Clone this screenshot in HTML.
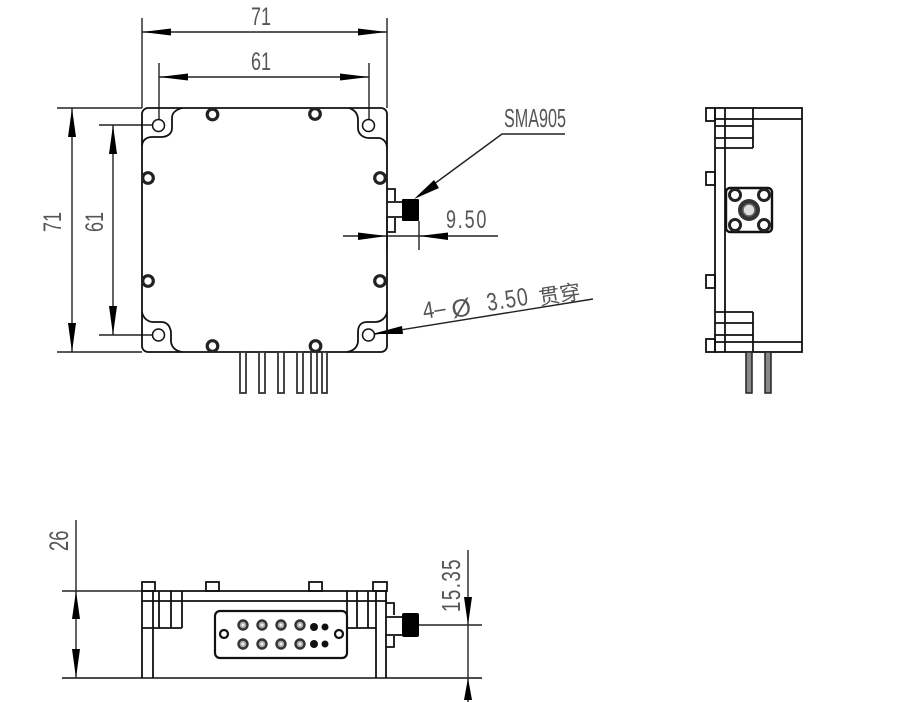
<!DOCTYPE html>
<html><head><meta charset="utf-8"><style>
html,body{margin:0;padding:0;background:#fff;width:909px;height:702px;overflow:hidden}
svg{display:block;filter:blur(.35px)}
text{font-family:"Liberation Sans","Noto Sans CJK SC",sans-serif;fill:#555;font-size:21px}
.o{fill:none;stroke:#111;stroke-width:1.8}
.t{fill:none;stroke:#222;stroke-width:1.4}
.p{fill:none;stroke:#333;stroke-width:1.8}
.h{fill:#fff;stroke:#222;stroke-width:3.2}
.k{fill:#000;stroke:none}
</style></head><body>
<svg width="909" height="702" viewBox="0 0 909 702" xmlns="http://www.w3.org/2000/svg">
<!-- TOP VIEW dims -->
<g class="t">
<path d="M142 18V108M387 18V108M159 63V119M369 63V119M142 32H387M159 77H369"/>
<path d="M57 108H142M57 352H142M99 125H152M99 335H152M72 108V352M113 125V335"/>
<path d="M343 236H498M387 217V250M419 221V250"/>
<path d="M565 134H502L430 187M369 335L593 299"/>
</g>
<g class="k">
<polygon points="142,32 171,28.5 171,35.5"/><polygon points="387,32 358,28.5 358,35.5"/>
<polygon points="159,77 188,73.5 188,80.5"/><polygon points="369,77 340,73.500 340,80.5"/>
<polygon points="72,108 68,137 76,137"/><polygon points="72,352 68,323 76,323"/>
<polygon points="113,125 109,154 117,154"/><polygon points="113,335 109,306 117,306"/>
<polygon points="387,236 358,232.5 358,240"/><polygon points="419,236 448,232.5 448,240"/>
<polygon points="414,199 434,180 439,188"/>
<polygon points="372,334 402,326 403,334"/>
</g>
<text transform="translate(251,25) scale(.72,1)" style="font-size:25px">71</text>
<text transform="translate(251,70) scale(.72,1)" style="font-size:25px">61</text>
<text transform="translate(61,232) rotate(-90) scale(.72,1)" style="font-size:25px">71</text>
<text transform="translate(103,232) rotate(-90) scale(.72,1)" style="font-size:25px">61</text>
<text x="504" y="127" textLength="62" lengthAdjust="spacingAndGlyphs" style="font-size:26px">SMA905</text>
<text transform="translate(446,228) scale(.72,1)" style="font-size:25px;letter-spacing:2.500px">9.50</text>
<text transform="translate(424,319) rotate(-9) scale(.85,1)" style="font-size:24px">4–</text>
<text transform="translate(453,318) rotate(-9)" style="font-size:25px">Ø</text>
<text transform="translate(488,311) rotate(-9) scale(.78,1)" style="font-size:25px;letter-spacing:1.500px">3.50</text>
<text transform="translate(540,305) rotate(-9)" style="font-size:21px">贯穿</text>
<!-- TOP VIEW body -->
<rect class="o" x="142" y="108" width="245" height="244" rx="6"/>
<path class="o" d="M182 108C175 110 172 113 172 118V128C172 134 167 137 161 137H152C147 137 142 140 142 146"/>
<path class="o" d="M349 108C355 110 358 114 358 120V128C358 134 363 138 369 138H378C383 138 387 142 387 148"/>
<path class="o" d="M142 312C143 318 148 322 153 322H161C167 322 170 326 171 332V342C172 348 176 351 182 352"/>
<path class="o" d="M387 312C386 318 381 322 375 322H367C361 322 358 326 358 332V342C357 348 353 351 347 352"/>
<g class="o" style="fill:#fff;stroke-width:1.5">
<circle cx="158.500" cy="125.500" r="6"/><circle cx="368.500" cy="125.500" r="6"/>
<circle cx="158.500" cy="335" r="6"/><circle cx="368.500" cy="335" r="6"/>
</g>
<g class="p" style="fill:#fff">
<rect x="240" y="352" width="6" height="41"/><rect x="259" y="352" width="6" height="41"/>
<rect x="278" y="352" width="6" height="41"/><rect x="297" y="352" width="6" height="41"/>
<rect x="311" y="352" width="6" height="41"/><rect x="322" y="352" width="5" height="41"/>
</g>
<g class="h">
<circle cx="212.500" cy="114.500" r="5.300"/><circle cx="315" cy="114" r="5.300"/>
<circle cx="148" cy="178" r="5.300"/><circle cx="380" cy="178" r="5.300"/>
<circle cx="148" cy="281" r="5.300"/><circle cx="380" cy="281" r="5.300"/>
<circle cx="212.500" cy="346" r="5.300"/><circle cx="315.500" cy="346" r="5.300"/>
</g>
<!-- SMA top -->
<path class="o" d="M387 189H395V201M395 218V232H387M387 202H402M387 217H402"/>
<rect class="k" x="402" y="199" width="17" height="22" rx="1"/>
<!-- SIDE VIEW -->
<g class="o">
<rect x="706" y="108" width="9" height="13"/><rect x="706" y="172" width="9" height="13"/>
<rect x="706" y="275" width="9" height="13"/><rect x="706" y="339" width="9" height="13"/>
<rect x="715" y="108" width="87" height="244"/>
<path d="M725 108V352M753 108V148M715 119H802M715 126H753M715 138H753M715 148H753"/>
<path d="M753 312V352M715 312H753M715 323H753M715 335H753M715 342H802"/>
</g>
<rect x="726" y="188" width="46" height="44" rx="4" fill="#fff" stroke="#111" stroke-width="2.400"/>
<g fill="#fff" stroke="#222" stroke-width="3">
<circle cx="735" cy="195" r="5.500"/><circle cx="764" cy="195" r="5.500"/>
<circle cx="735" cy="225" r="5.500"/><circle cx="764" cy="225" r="5.500"/>
</g>
<circle cx="749" cy="210" r="11" fill="#333"/><circle cx="749" cy="210" r="6" fill="#ddd" stroke="#666" stroke-width="1.500"/>
<g fill="#888" stroke="#222" stroke-width="1.500">
<rect x="746" y="352" width="6" height="41"/><rect x="765" y="352" width="6" height="41"/>
</g>
<!-- FRONT VIEW -->
<g class="t">
<path d="M76 520V678M62 591H142M468 550V702M419 625H482"/>
</g>
<path d="M62 678H482" stroke="#333" stroke-width="1.800" fill="none"/>
<path d="M142 591H387M142 601H387" class="o"/>
<g class="k">
<polygon points="76,591 72,619 80,619"/><polygon points="76,678 72,649 80,649"/>
<polygon points="468,625 464,597 472,597"/><polygon points="468,678 464,700 472,700"/>
</g>
<text transform="translate(68,551) rotate(-90) scale(.68,1)" style="font-size:27px">26</text>
<text transform="translate(460,612) rotate(-90) scale(.72,1)" style="font-size:26px;letter-spacing:2px">15.35</text>
<g class="o">
<rect x="142" y="582" width="13" height="9"/><rect x="206" y="582" width="13" height="9"/>
<rect x="309" y="582" width="13" height="9"/><rect x="373" y="582" width="14" height="9"/>
<path d="M142 591V678M153 591V678M159 591V628M171 591V628M182 591V628M142 628H182"/>
<path d="M347 591V628M357 591V628M368 591V628M376 591V678M386 591V678M347 628H376"/>
</g>
<rect x="215" y="611" width="132" height="47" rx="5" fill="#fff" stroke="#111" stroke-width="2.200"/>
<g fill="#fff" stroke="#111" stroke-width="2.200"><circle cx="224" cy="634" r="4"/><circle cx="339" cy="634" r="4"/></g>
<g fill="#aaa" stroke="#333" stroke-width="2.400">
<circle cx="243" cy="625" r="4.500"/><circle cx="262" cy="625" r="4.500"/><circle cx="281" cy="625" r="4.500"/><circle cx="300" cy="625" r="4.500"/>
<circle cx="243" cy="644" r="4.500"/><circle cx="262" cy="644" r="4.500"/><circle cx="281" cy="644" r="4.500"/><circle cx="300" cy="644" r="4.500"/>
</g>
<g fill="#eee">
<circle cx="243" cy="625" r="1.500"/><circle cx="262" cy="625" r="1.500"/><circle cx="281" cy="625" r="1.500"/><circle cx="300" cy="625" r="1.500"/>
<circle cx="243" cy="644" r="1.500"/><circle cx="262" cy="644" r="1.500"/><circle cx="281" cy="644" r="1.500"/><circle cx="300" cy="644" r="1.500"/>
</g>
<g fill="#111">
<circle cx="314" cy="627" r="4"/><circle cx="325" cy="627" r="3.500"/><circle cx="314" cy="644" r="4"/><circle cx="325" cy="644" r="3.500"/>
</g>
<path class="o" d="M386 603H394V615M394 636V647H386M386 617H402M386 635H402"/>
<rect class="k" x="402" y="613" width="17" height="24" rx="2"/>
</svg>
</body></html>
